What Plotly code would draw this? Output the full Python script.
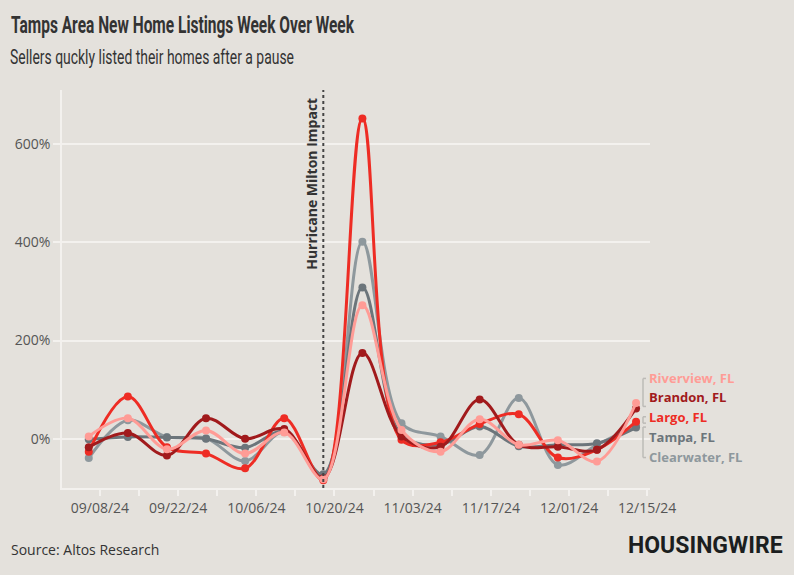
import plotly.graph_objects as go

dates = ["2024-09-06", "2024-09-13", "2024-09-20", "2024-09-27", "2024-10-04",
         "2024-10-11", "2024-10-18", "2024-10-25", "2024-11-01", "2024-11-08",
         "2024-11-15", "2024-11-22", "2024-11-29", "2024-12-06", "2024-12-13"]

clearwater = [-39, 38, 4, 1, -45, 14, -76, 401, 32, 5, -33, 83, -53, -12, 28]
tampa = [-1, 4, 3, 0, -18, 15, -72, 308, 8, -12, 25, -15, -12, -9, 23]
largo = [-26, 86, -17, -30, -60, 42, -84, 652, -2, -7, 30, 50, -38, -22, 35]
brandon = [-17, 12, -34, 42, 0, 20, -80, 175, 5, -16, 80, -12, -16, -22, 62]
riverview = [5, 42, -21, 17, -30, 13, -82, 272, 18, -26, 40, -12, -3, -46, 73]

series = [
    ("Clearwater, FL", clearwater, "#8E989D"),
    ("Tampa, FL", tampa, "#6C757B"),
    ("Largo, FL", largo, "#EE2C24"),
    ("Brandon, FL", brandon, "#A11A1C"),
    ("Riverview, FL", riverview, "#FF9C96"),
]
label_order = ["Riverview, FL", "Brandon, FL", "Largo, FL", "Tampa, FL", "Clearwater, FL"]
label_vals = [123, 85, 45, 4, -36]

y_ticks = [0, 200, 400, 600]
y_ticktext = [f"{v}%" for v in y_ticks]
event_date = "2024-10-18"
event_label = "Hurricane Milton Impact"

title_text = "Tamps Area New Home Listings Week Over Week"
subtitle_text = "Sellers quckly listed their homes after a pause"
source_text = "Source: Altos Research"
brand_text = "HOUSINGWIRE"

BG = "#E4E1DC"
GRID = "#F3F1EE"
FONT = "Open Sans"
HEAD = "Roboto"

# plot area in pixels (for placing outer texts)
L, R, T, B = 62, 650, 90, 488
W, H = 794, 575
def px(x):
    return (x - L) / (R - L)
def py(y):
    return (B - y) / (B - T)

fig = go.Figure()
for name, vals, color in series:
    fig.add_trace(go.Scatter(
        x=dates, y=vals, name=name, mode="lines+markers",
        line=dict(color=color, width=3, shape="spline", smoothing=1),
        marker=dict(color=color, size=8),
        showlegend=False,
    ))

fig.add_shape(type="line", xref="x", yref="paper", x0=event_date, x1=event_date,
              y0=0, y1=1, line=dict(color="#444444", width=2, dash="dot"))
fig.add_annotation(x=event_date, xref="x", y=1, yref="paper", text="<b>" + event_label + "</b>",
                   textangle=-90, xanchor="right", yanchor="top", showarrow=False,
                   xshift=-1, yshift=-6, font=dict(family=FONT, size=14, color="#333333"))

colors = {n: c for n, _, c in series}
for name, v in zip(label_order, label_vals):
    fig.add_annotation(x=px(647), xref="paper", y=v, yref="y", text="<b>" + name + "</b>",
                       xanchor="left", yanchor="middle", showarrow=False,
                       font=dict(family=FONT, size=13, color=colors[name]))

# brackets
br = "#BDBBB7"
for y0, y1 in [(123, 66), (45, 32), (24, -38)]:
    xa, xb = px(643), px(646)
    fig.add_shape(type="line", xref="paper", yref="y", x0=xa, x1=xa, y0=y0, y1=y1,
                  line=dict(color=br, width=1.5))
    fig.add_shape(type="line", xref="paper", yref="y", x0=xa, x1=xb, y0=y0, y1=y0,
                  line=dict(color=br, width=1.5))
    fig.add_shape(type="line", xref="paper", yref="y", x0=xa, x1=xb, y0=y1, y1=y1,
                  line=dict(color=br, width=1.5))

fig.add_annotation(x=px(9), xref="paper", y=py(25), yref="paper", xanchor="left", yanchor="middle",
                   align="left", showarrow=False, text="<b>" + title_text + "</b>",
                   font=dict(family=HEAD, size=24, color="#333333"))
fig.add_annotation(x=px(8), xref="paper", y=py(57), yref="paper", xanchor="left", yanchor="middle",
                   align="left", showarrow=False, text=subtitle_text,
                   font=dict(family=HEAD, size=21, color="#333333"))
fig.add_annotation(x=px(9), xref="paper", y=py(549), yref="paper", xanchor="left", yanchor="middle",
                   align="left", showarrow=False, text=source_text,
                   font=dict(family=FONT, size=14, color="#333333"))
fig.add_annotation(x=px(785), xref="paper", y=py(545), yref="paper", xanchor="right", yanchor="middle",
                   align="right", showarrow=False, text="<b>" + brand_text + "</b>",
                   font=dict(family=HEAD, size=23, color="#1B1E20"))

fig.update_layout(
    width=W, height=H,
    paper_bgcolor=BG, plot_bgcolor=BG,
    margin=dict(l=L, r=W - R, t=T, b=H - B),
    font=dict(family=FONT, color="#555555"),
    xaxis=dict(
        type="date", range=["2024-09-01 05:00", "2024-12-15 12:00"],
        tick0="2024-09-08", dtick=14 * 86400000, tickformat="%m/%d/%y",
        ticks="outside", ticklen=6, tickcolor=GRID, tickwidth=1.5,
        minor=dict(dtick=7 * 86400000, tick0="2024-09-08", ticks="outside", ticklen=6,
                   tickcolor=GRID, showgrid=False),
        showgrid=False, showline=True, linecolor=GRID, linewidth=1.5,
        tickfont=dict(family=FONT, size=14, color="#555555"),
    ),
    yaxis=dict(
        range=[-100, 710], tickvals=y_ticks, ticktext=y_ticktext,
        ticks="outside", ticklen=7, tickcolor=GRID, tickwidth=1.5,
        showgrid=True, gridcolor=GRID, gridwidth=1.5,
        zeroline=True, zerolinecolor=GRID, zerolinewidth=1.5,
        showline=True, linecolor=GRID, linewidth=1.5,
        tickfont=dict(family=FONT, size=14, color="#555555"),
    ),
)

# condense the headline texts (the original uses a condensed face)
post = """
document.body.style.margin='0';
var widths = {};
widths[%r] = 343; widths[%r] = 284;
document.querySelectorAll('text.annotation-text').forEach(function(t){
  var w = widths[t.textContent];
  if (w) { t.setAttribute('textLength', w); t.setAttribute('lengthAdjust', 'spacingAndGlyphs'); }
});
""" % (title_text, subtitle_text)

fig.write_html("out.html", post_script=post, config={"displayModeBar": False})
